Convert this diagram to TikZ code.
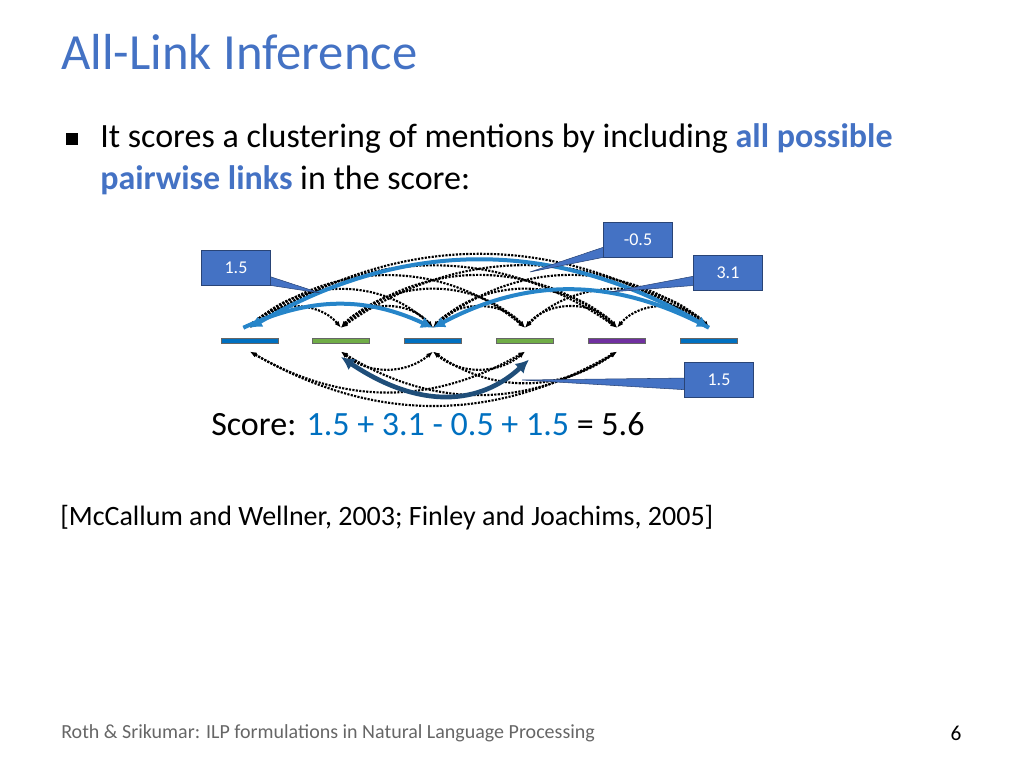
\documentclass[tikz,border=0pt]{standalone}
\usepackage{fontspec}
\setmainfont{Carlito}
\usetikzlibrary{arrows.meta,shapes.callouts}
\definecolor{ttl}{RGB}{68,114,196}
\definecolor{bl}{RGB}{0,112,192}
\definecolor{gr}{RGB}{112,173,71}
\definecolor{pu}{RGB}{112,48,160}
\definecolor{boxc}{RGB}{68,114,196}
\definecolor{dk}{RGB}{31,78,121}
\tikzset{
 bar/.style={fill=#1,draw=black!60,minimum width=43pt,minimum height=3.5pt,inner sep=0pt},
 dots/.style={densely dotted,line width=1.6pt,{Latex[length=5pt]}-{Latex[length=5pt]}},
 blarc/.style={line width=3pt,draw=bl!85!white,-{Latex[length=9pt,width=9pt]}},
 lbl/.style={fill=boxc,draw=boxc!60!black,text=white,font=\fontsize{13.5}{13.5}\selectfont,minimum width=52pt,minimum height=26pt,inner sep=2pt},
 ptr/.style={fill=boxc,draw=boxc!60!black}
}
\begin{document}
\begin{tikzpicture}[x=0.75pt,y=-0.75pt]
\useasboundingbox (0,0) rectangle (1024,768);
\node[anchor=west,text=ttl,font=\fontsize{38}{38}\selectfont,inner sep=0pt] (title) at (61,52) {All-Link Inference};
\node[fill=black,minimum size=9pt,inner sep=0pt] (bul) at (72,139) {};
\node[anchor=west,align=left,font=\fontsize{25.5}{31.5}\selectfont,inner sep=0pt] (txt) at (100,159) {It scores a clustering of mentions by including \textbf{\color{ttl}all possible}\\\textbf{\color{ttl}pairwise links} in the score:};
% mentions
\node[bar=bl] (m1) at (250,341) {};
\node[bar=gr] (m2) at (341,341) {};
\node[bar=bl] (m3) at (433,341) {};
\node[bar=gr] (m4) at (525,341) {};
\node[bar=pu] (m5) at (617,341) {};
\node[bar=bl] (m6) at (709,341) {};
% dotted arcs above
\foreach \i/\j/\b in {1/2/50,1/3/45,1/4/40,1/5/35,1/6/33,2/3/50,2/4/45,2/5/40,2/6/35,3/4/50,3/5/45,3/6/40,4/5/50,4/6/45,5/6/50}{
 \draw[dots] ([yshift=8pt]m\i.north) to[bend left=\b] ([yshift=8pt]m\j.north);
}
% dotted arcs below
\foreach \i/\j/\b in {1/5/-30,1/4/-30,2/3/-40,2/5/-32,3/5/-35,3/4/-40}{
 \draw[dots] ([yshift=-6pt]m\i.south) to[bend left=\b] ([yshift=-6pt]m\j.south);
}
% blue arcs
\draw[blarc] ([shift={(-5pt,8pt)}]m1.north) to[bend left=25] ([yshift=8pt]m3.north);
\draw[blarc,{Latex[length=9pt,width=9pt]}-{Latex[length=9pt,width=9pt]}] ([yshift=8pt]m1.north) to[bend left=30] ([yshift=8pt]m6.north);
\draw[blarc] ([yshift=8pt]m6.north) to[bend right=28] ([yshift=8pt]m3.north);
\draw[line width=3.5pt,draw=dk,{Latex[length=10pt,width=10pt]}-{Latex[length=10pt,width=10pt]}] ([yshift=-10pt]m2.south) .. controls (420,410) and (480,405) .. ([shift={(3pt,-12pt)}]m4.south);
% callouts
\fill[ptr] (250,270) -- (320,293) -- (255,283) -- cycle;
\fill[ptr] (610,245) -- (530,272) -- (615,255) -- cycle;
\fill[ptr] (700,275) -- (610,292) -- (700,285) -- cycle;
\fill[ptr] (690,378) -- (522,380) -- (690,390) -- cycle;
\node[lbl] (c1) at (236,268) {1.5};
\node[lbl] (c2) at (638,240) {-0.5};
\node[lbl] (c3) at (728,273) {3.1};
\node[lbl] (c4) at (719,380) {1.5};
\node[anchor=west,font=\fontsize{25.5}{25.5}\selectfont,inner sep=0pt] (score) at (211,424) {Score: \textcolor{bl}{1.5 + 3.1 - 0.5 + 1.5} = 5.6};
\node[anchor=west,font=\fontsize{21}{21}\selectfont,inner sep=0pt] (ref) at (60,518) {[McCallum and Wellner, 2003; Finley and Joachims, 2005]};
\node[anchor=west,text=black!60,font=\fontsize{15}{15}\selectfont,inner sep=0pt] (foot) at (61,733) {Roth \& Srikumar: ILP formulations in Natural Language Processing};
\node[font=\fontsize{16}{16}\selectfont] (pg) at (956,733) {6};
\end{tikzpicture}
\end{document}
